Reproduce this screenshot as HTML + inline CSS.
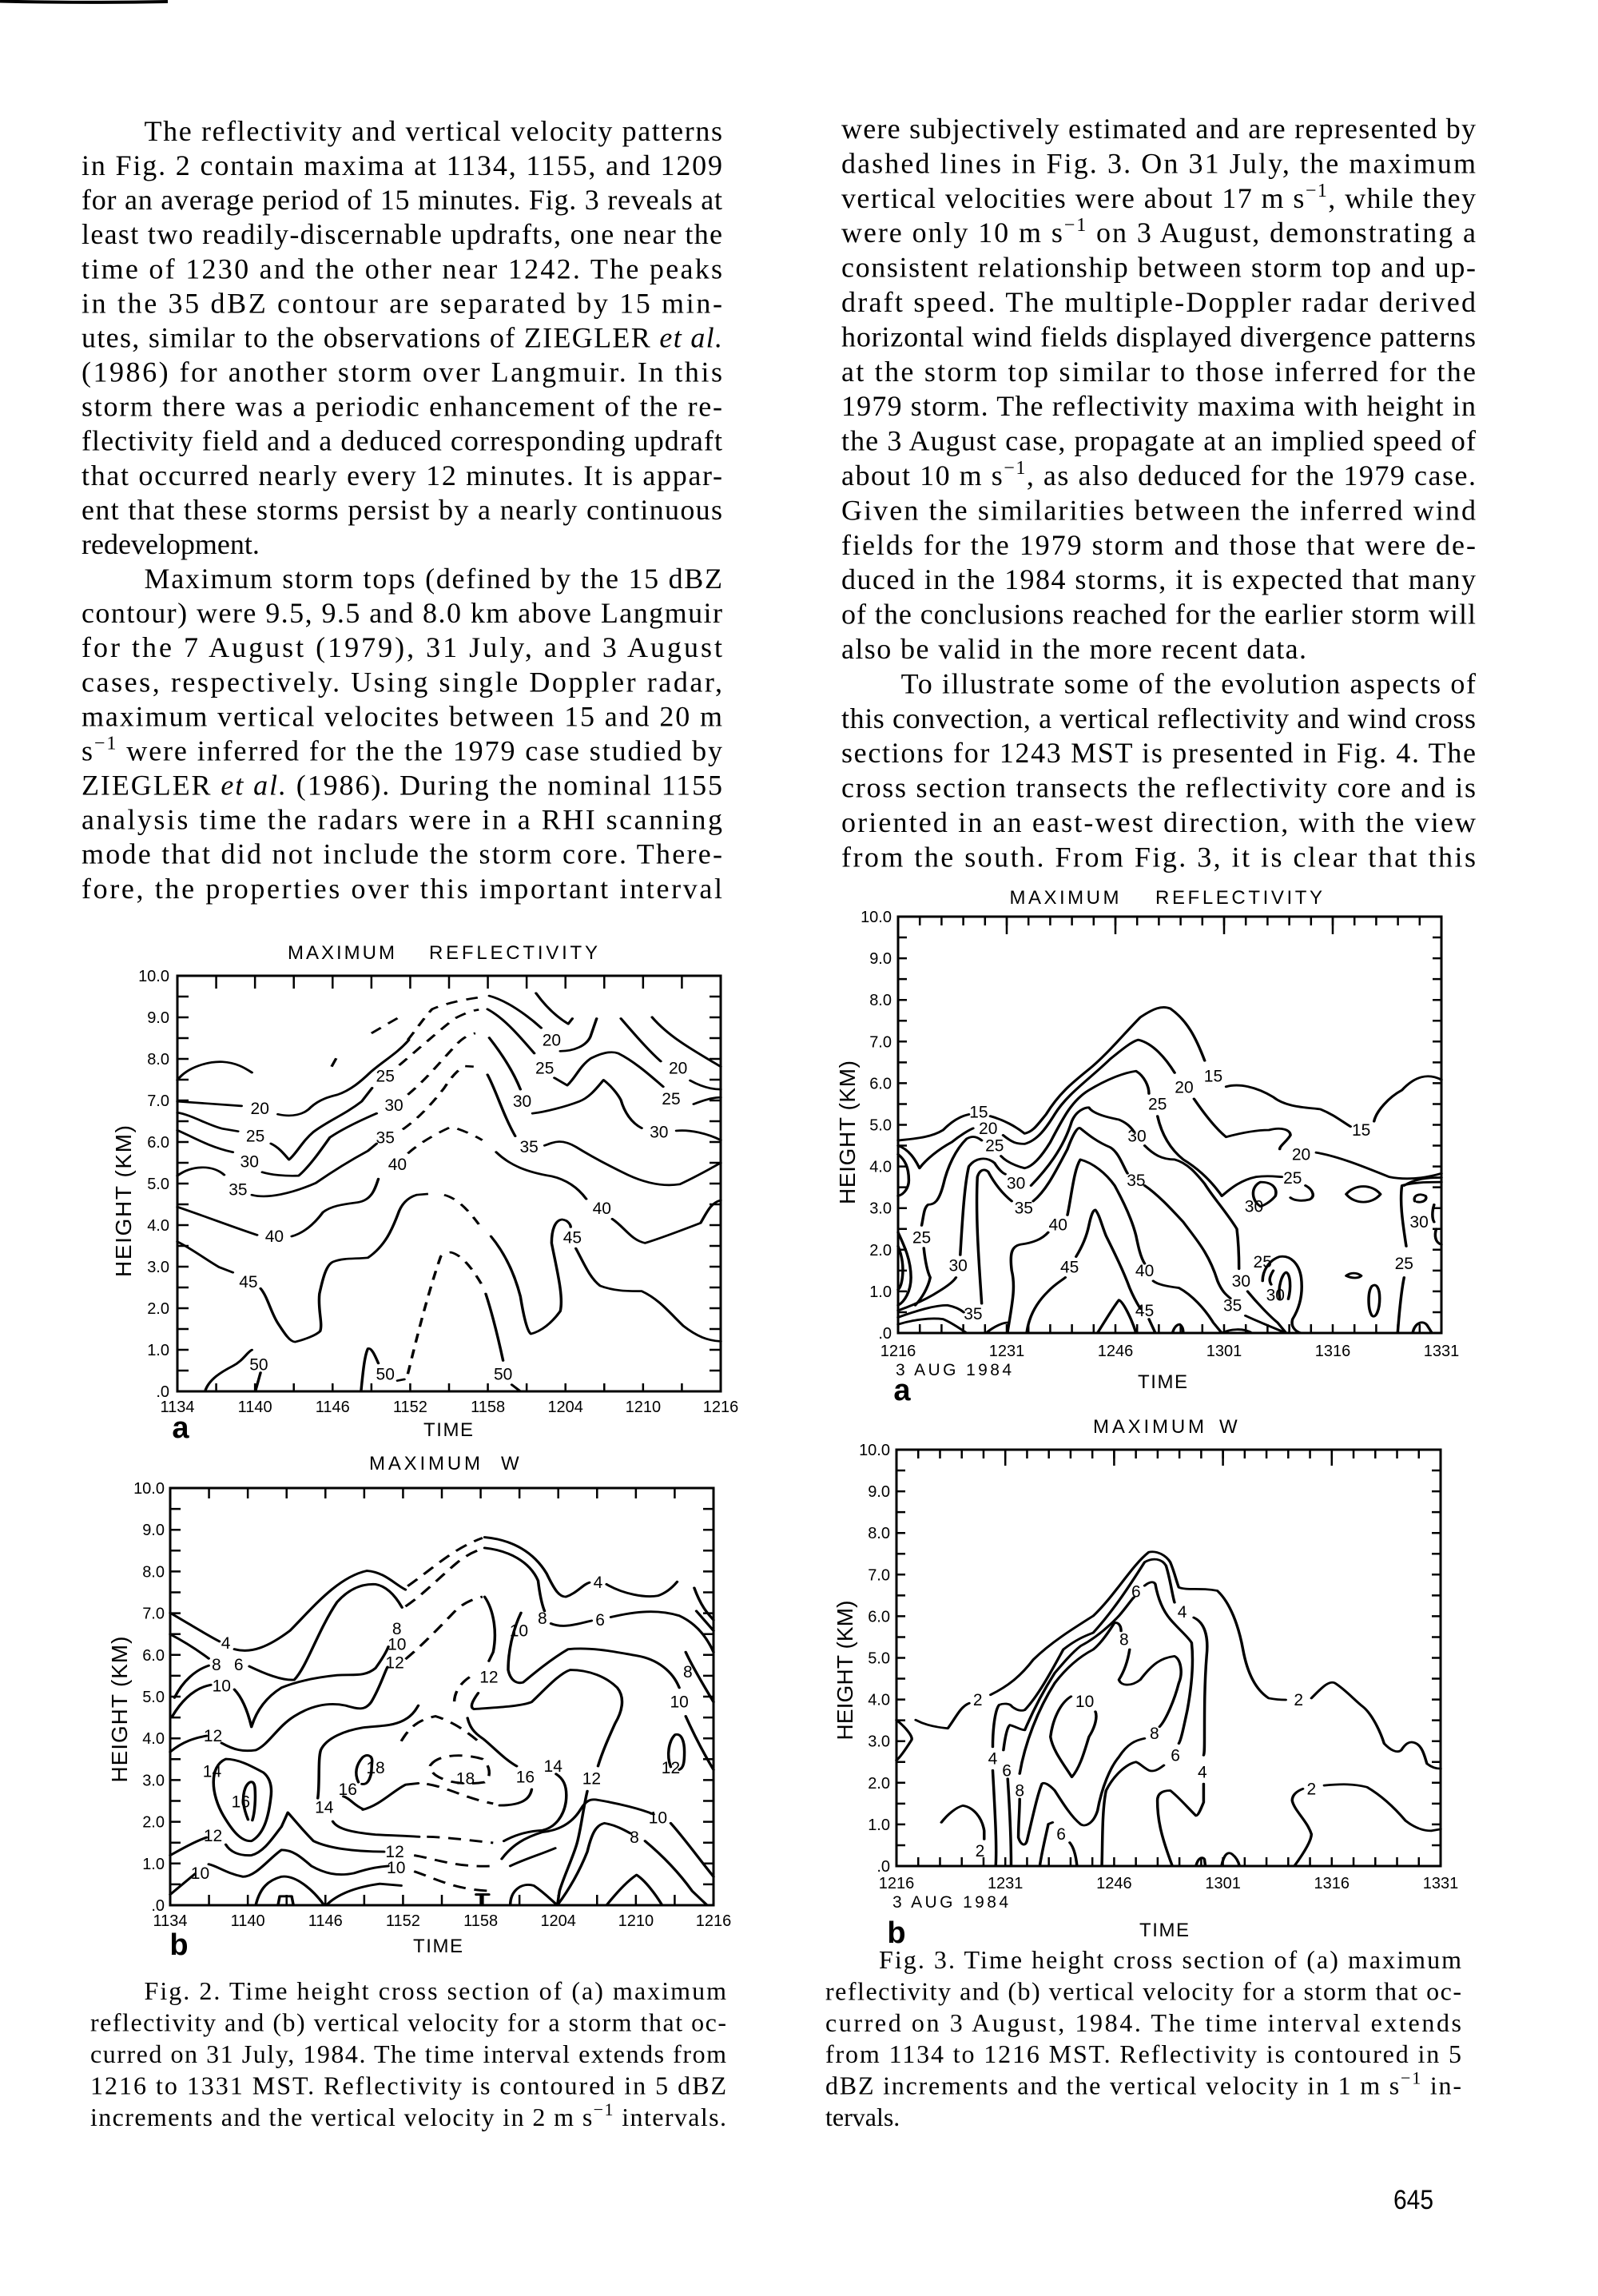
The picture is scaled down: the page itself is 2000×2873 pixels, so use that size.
<!DOCTYPE html>
<html><head><meta charset="utf-8"><style>html,body{margin:0;padding:0;background:#fff}svg{display:block}</style></head>
<body>
<svg width="2000" height="2873" viewBox="0 0 2000 2873" xmlns="http://www.w3.org/2000/svg">
<rect width="2000" height="2873" fill="#fff"/>
<path d="M0,1.5 Q100,4 210,2" stroke="#000" stroke-width="4" fill="none"/>

<!-- BODY TEXT -->
<g font-family="'Liberation Serif', serif" font-size="36" fill="#000">
<text x="180.5" y="176" textLength="723.5" lengthAdjust="spacing">The reflectivity and vertical velocity patterns</text>
<text x="102" y="219.1" textLength="802" lengthAdjust="spacing">in Fig. 2 contain maxima at 1134, 1155, and 1209</text>
<text x="102" y="262.2" textLength="802" lengthAdjust="spacing">for an average period of 15 minutes. Fig. 3 reveals at</text>
<text x="102" y="305.2" textLength="802" lengthAdjust="spacing">least two readily-discernable updrafts, one near the</text>
<text x="102" y="348.3" textLength="802" lengthAdjust="spacing">time of 1230 and the other near 1242. The peaks</text>
<text x="102" y="391.4" textLength="802" lengthAdjust="spacing">in the 35 dBZ contour are separated by 15 min-</text>
<text x="102" y="434.5" textLength="802" lengthAdjust="spacing">utes, similar to the observations of ZIEGLER <tspan font-style="italic">et al.</tspan></text>
<text x="102" y="477.6" textLength="802" lengthAdjust="spacing">(1986) for another storm over Langmuir. In this</text>
<text x="102" y="520.6" textLength="802" lengthAdjust="spacing">storm there was a periodic enhancement of the re-</text>
<text x="102" y="563.7" textLength="802" lengthAdjust="spacing">flectivity field and a deduced corresponding updraft</text>
<text x="102" y="606.8" textLength="802" lengthAdjust="spacing">that occurred nearly every 12 minutes. It is appar-</text>
<text x="102" y="649.9" textLength="802" lengthAdjust="spacing">ent that these storms persist by a nearly continuous</text>
<text x="102" y="693">redevelopment.</text>
<text x="180.5" y="736" textLength="723.5" lengthAdjust="spacing">Maximum storm tops (defined by the 15 dBZ</text>
<text x="102" y="779.1" textLength="802" lengthAdjust="spacing">contour) were 9.5, 9.5 and 8.0 km above Langmuir</text>
<text x="102" y="822.2" textLength="802" lengthAdjust="spacing">for the 7 August (1979), 31 July, and 3 August</text>
<text x="102" y="865.3" textLength="802" lengthAdjust="spacing">cases, respectively. Using single Doppler radar,</text>
<text x="102" y="908.4" textLength="802" lengthAdjust="spacing">maximum vertical velocites between 15 and 20 m</text>
<text x="102" y="951.4" textLength="802" lengthAdjust="spacing">s<tspan dy="-14" font-size="24">−1</tspan><tspan dy="14"> were inferred for the the 1979 case studied by</tspan></text>
<text x="102" y="994.5" textLength="802" lengthAdjust="spacing">ZIEGLER <tspan font-style="italic">et al.</tspan> (1986). During the nominal 1155</text>
<text x="102" y="1037.6" textLength="802" lengthAdjust="spacing">analysis time the radars were in a RHI scanning</text>
<text x="102" y="1080.7" textLength="802" lengthAdjust="spacing">mode that did not include the storm core. There-</text>
<text x="102" y="1123.8" textLength="802" lengthAdjust="spacing">fore, the properties over this important interval</text>

<text x="1053" y="173" textLength="794" lengthAdjust="spacing">were subjectively estimated and are represented by</text>
<text x="1053" y="216.4" textLength="794" lengthAdjust="spacing">dashed lines in Fig. 3. On 31 July, the maximum</text>
<text x="1053" y="259.8" textLength="794" lengthAdjust="spacing">vertical velocities were about 17 m s<tspan dy="-14" font-size="24">−1</tspan><tspan dy="14">, while they</tspan></text>
<text x="1053" y="303.2" textLength="794" lengthAdjust="spacing">were only 10 m s<tspan dy="-14" font-size="24">−1</tspan><tspan dy="14"> on 3 August, demonstrating a</tspan></text>
<text x="1053" y="346.6" textLength="794" lengthAdjust="spacing">consistent relationship between storm top and up-</text>
<text x="1053" y="390" textLength="794" lengthAdjust="spacing">draft speed. The multiple-Doppler radar derived</text>
<text x="1053" y="433.4" textLength="794" lengthAdjust="spacing">horizontal wind fields displayed divergence patterns</text>
<text x="1053" y="476.8" textLength="794" lengthAdjust="spacing">at the storm top similar to those inferred for the</text>
<text x="1053" y="520.2" textLength="794" lengthAdjust="spacing">1979 storm. The reflectivity maxima with height in</text>
<text x="1053" y="563.6" textLength="794" lengthAdjust="spacing">the 3 August case, propagate at an implied speed of</text>
<text x="1053" y="607" textLength="794" lengthAdjust="spacing">about 10 m s<tspan dy="-14" font-size="24">−1</tspan><tspan dy="14">, as also deduced for the 1979 case.</tspan></text>
<text x="1053" y="650.4" textLength="794" lengthAdjust="spacing">Given the similarities between the inferred wind</text>
<text x="1053" y="693.8" textLength="794" lengthAdjust="spacing">fields for the 1979 storm and those that were de-</text>
<text x="1053" y="737.2" textLength="794" lengthAdjust="spacing">duced in the 1984 storms, it is expected that many</text>
<text x="1053" y="780.6" textLength="794" lengthAdjust="spacing">of the conclusions reached for the earlier storm will</text>
<text x="1053" y="824" textLength="582" lengthAdjust="spacing">also be valid in the more recent data.</text>
<text x="1127.6" y="867.4" textLength="719.4" lengthAdjust="spacing">To illustrate some of the evolution aspects of</text>
<text x="1053" y="910.8" textLength="794" lengthAdjust="spacing">this convection, a vertical reflectivity and wind cross</text>
<text x="1053" y="954.2" textLength="794" lengthAdjust="spacing">sections for 1243 MST is presented in Fig. 4. The</text>
<text x="1053" y="997.6" textLength="794" lengthAdjust="spacing">cross section transects the reflectivity core and is</text>
<text x="1053" y="1041" textLength="794" lengthAdjust="spacing">oriented in an east-west direction, with the view</text>
<text x="1053" y="1084.4" textLength="794" lengthAdjust="spacing">from the south. From Fig. 3, it is clear that this</text>
</g>

<!-- CAPTIONS -->
<g font-family="'Liberation Serif', serif" font-size="32" fill="#000">
<text x="180.5" y="2502" textLength="728.5" lengthAdjust="spacing">Fig. 2.  Time height cross section of (a) maximum</text>
<text x="113" y="2541.5" textLength="796" lengthAdjust="spacing">reflectivity and (b) vertical velocity for a storm that oc-</text>
<text x="113" y="2581" textLength="796" lengthAdjust="spacing">curred on 31 July, 1984. The time interval extends from</text>
<text x="113" y="2620.5" textLength="796" lengthAdjust="spacing">1216 to 1331 MST. Reflectivity is contoured in 5 dBZ</text>
<text x="113" y="2660" textLength="796" lengthAdjust="spacing">increments and the vertical velocity in 2 m s<tspan dy="-13" font-size="22">−1</tspan><tspan dy="13"> intervals.</tspan></text>

<text x="1100" y="2463" textLength="729" lengthAdjust="spacing">Fig. 3.  Time height cross section of (a) maximum</text>
<text x="1033" y="2502.4" textLength="796" lengthAdjust="spacing">reflectivity and (b) vertical velocity for a storm that oc-</text>
<text x="1033" y="2541.8" textLength="796" lengthAdjust="spacing">curred on 3 August, 1984.  The time interval extends</text>
<text x="1033" y="2581.2" textLength="796" lengthAdjust="spacing">from 1134 to 1216 MST. Reflectivity is contoured in 5</text>
<text x="1033" y="2620.6" textLength="796" lengthAdjust="spacing">dBZ increments and the vertical velocity in 1 m s<tspan dy="-13" font-size="22">−1</tspan><tspan dy="13"> in-</tspan></text>
<text x="1033" y="2660">tervals.</text>
</g>
<text x="1769" y="2764" font-family="'Liberation Sans', sans-serif" font-size="34" text-anchor="middle" textLength="50" lengthAdjust="spacingAndGlyphs">645</text>

<!-- ===================== FIG 2a ===================== -->
<g>
<g stroke="#000" fill="none">
<rect x="222" y="1221" width="680" height="520" stroke-width="3"/>
<line x1="220.75" y1="1229" x2="904" y2="1229" stroke-width="16" stroke-dasharray="2.5 46.071"/>
<line x1="220.75" y1="1736" x2="904" y2="1736" stroke-width="10" stroke-dasharray="2.5 46.071"/>
<line x1="229" y1="1219.75" x2="229" y2="1743" stroke-width="14" stroke-dasharray="2.5 23.5"/>
<line x1="895" y1="1219.75" x2="895" y2="1743" stroke-width="14" stroke-dasharray="2.5 23.5"/>
</g>
<g font-family="'Liberation Sans', sans-serif" fill="#000">
<g font-size="20" text-anchor="end">
<text x="212" y="1228">10.0</text><text x="212" y="1280">9.0</text><text x="212" y="1332">8.0</text><text x="212" y="1384">7.0</text><text x="212" y="1436">6.0</text><text x="212" y="1488">5.0</text><text x="212" y="1540">4.0</text><text x="212" y="1592">3.0</text><text x="212" y="1644">2.0</text><text x="212" y="1696">1.0</text><text x="212" y="1748">.0</text>
</g>
<g font-size="20" text-anchor="middle">
<text x="222" y="1767">1134</text><text x="319.1" y="1767">1140</text><text x="416.3" y="1767">1146</text><text x="513.4" y="1767">1152</text><text x="610.6" y="1767">1158</text><text x="707.7" y="1767">1204</text><text x="804.9" y="1767">1210</text><text x="902" y="1767">1216</text>
</g>
<text x="360" y="1200" font-size="24" textLength="134" lengthAdjust="spacing">MAXIMUM</text><text x="537" y="1200" font-size="24" textLength="211" lengthAdjust="spacing">REFLECTIVITY</text>
<text x="561" y="1797" font-size="24" text-anchor="middle" textLength="62" lengthAdjust="spacing">TIME</text>
<text x="226" y="1799" font-size="38" font-weight="bold" text-anchor="middle">a</text>
<text transform="translate(164,1503) rotate(-90)" font-size="28" text-anchor="middle" textLength="190" lengthAdjust="spacing">HEIGHT (KM)</text>
</g>
<g transform="matrix(0.43367 0 0 0.33441 222 1221)">
<g fill="none" stroke="#000" stroke-width="8" stroke-linecap="round" stroke-linejoin="round">
<path d="M0,390 C30,340 90,320 130,322 C170,325 195,345 215,362"/>
<path d="M0,470 L185,487"/>
<path d="M290,518 C330,530 365,520 385,492 C410,462 440,452 462,445 C500,428 530,395 558,360 C595,318 635,290 668,240"/>
<path d="M900,75 C950,92 1010,148 1050,195"/>
<path d="M1105,282 C1145,282 1180,262 1192,228 L1210,160"/>
<path d="M1035,65 C1060,110 1090,150 1128,180 L1140,160"/>
<path d="M0,512 C40,520 90,560 130,572 L175,582"/>
<path d="M270,628 C292,642 305,662 322,688 C342,668 360,620 392,585 C432,545 482,520 532,470 L562,420"/>
<path d="M895,125 C945,160 990,230 1030,290"/>
<path d="M1088,382 L1125,410 C1150,380 1160,340 1192,310 C1222,290 1250,280 1272,290 C1322,322 1372,382 1402,415"/>
<path d="M1280,160 C1320,220 1360,280 1395,320"/>
<path d="M1370,155 C1420,230 1490,280 1568,340"/>
<path d="M1480,392 C1505,410 1535,425 1568,425"/>
<path d="M1490,480 C1520,465 1545,455 1568,455"/>
<path d="M0,578 C40,600 90,640 160,660"/>
<path d="M245,735 C270,745 310,750 350,748 C380,715 410,660 440,605 C480,570 530,540 575,515"/>
<path d="M900,232 C935,290 970,360 990,425"/>
<path d="M1025,515 C1060,510 1120,490 1160,470 C1190,455 1210,420 1230,390 C1250,410 1270,440 1280,465 C1290,510 1310,550 1340,570"/>
<path d="M1440,580 C1480,575 1530,590 1568,615"/>
<path d="M0,748 C40,710 100,705 135,745"/>
<path d="M215,820 C260,835 330,815 400,775 C450,730 500,690 550,655 L575,628"/>
<path d="M895,370 C920,430 940,520 975,600"/>
<path d="M1060,635 C1090,620 1110,610 1150,640 C1200,680 1260,720 1300,745 C1350,775 1400,790 1450,780 C1500,750 1540,720 1568,700"/>
<path d="M0,865 C80,900 160,940 230,970"/>
<path d="M330,975 C370,960 400,920 420,885 C445,860 480,855 520,848 C560,840 570,800 580,760"/>
<path d="M920,660 C960,710 1010,735 1080,750 C1130,765 1160,800 1180,835"/>
<path d="M1255,910 C1290,940 1310,990 1350,1000 C1400,980 1460,950 1510,925 C1530,880 1540,850 1568,840"/>
<path d="M0,995 C40,1020 80,1060 120,1090 L160,1110"/>
<path d="M240,1170 C260,1200 270,1260 290,1300 C310,1340 325,1370 340,1370 C370,1360 400,1345 412,1330 C420,1300 405,1250 410,1190 C420,1130 430,1080 450,1070 C480,1055 510,1060 550,1055 C600,1010 620,950 640,880 C650,850 665,830 690,820"/>
<path d="M905,975 C940,1030 970,1100 990,1200 C1000,1280 1010,1330 1020,1340 C1050,1330 1080,1300 1105,1255 C1115,1200 1095,1100 1080,1000 C1080,950 1090,915 1110,912 C1130,915 1135,935 1135,940"/>
<path d="M1150,1020 C1175,1080 1190,1130 1220,1160 C1260,1180 1300,1180 1340,1180 C1390,1210 1420,1260 1460,1310 C1500,1350 1530,1365 1568,1368"/>
<path d="M80,1555 C90,1510 130,1480 160,1460 C190,1440 200,1410 215,1400"/>
<path d="M240,1485 L225,1555"/>
<path d="M530,1555 C535,1490 540,1420 550,1395 C560,1390 570,1420 580,1450"/>
<path d="M635,1515 L655,1510"/>
<path d="M890,1190 C910,1270 930,1380 940,1440"/>
<path d="M965,1530 L990,1555"/>
</g>
<g fill="none" stroke="#000" stroke-width="8" stroke-dasharray="34 26">
<path d="M665,240 C690,200 710,160 735,125 C770,105 820,90 875,80"/>
<path d="M640,335 C690,280 760,200 800,160 C830,140 850,130 870,127"/>
<path d="M560,215 L640,155"/>
<path d="M445,340 L460,305"/>
<path d="M665,445 C720,385 760,320 800,265 C820,235 840,220 860,215"/>
<path d="M650,575 C700,530 740,470 770,420 C790,380 810,350 830,338 L855,340"/>
<path d="M665,665 C700,625 740,595 790,565 C830,580 860,600 880,615"/>
<path d="M690,820 L735,815 M770,820 C800,830 830,860 870,930"/>
<path d="M665,1490 C690,1360 720,1200 760,1050 C770,1040 780,1035 790,1035 C820,1045 850,1090 885,1170"/>
</g>
<g font-family="'Liberation Sans', sans-serif" font-size="21" text-anchor="middle" fill="#000">
<text transform="matrix(2.3059 0 0 2.9903 238 497)" y="7">20</text>
<text transform="matrix(2.3059 0 0 2.9903 225 600)" y="7">25</text>
<text transform="matrix(2.3059 0 0 2.9903 208 695)" y="7">30</text>
<text transform="matrix(2.3059 0 0 2.9903 175 800)" y="7">35</text>
<text transform="matrix(2.3059 0 0 2.9903 280 975)" y="7">40</text>
<text transform="matrix(2.3059 0 0 2.9903 205 1145)" y="7">45</text>
<text transform="matrix(2.3059 0 0 2.9903 235 1455)" y="7">50</text>
<text transform="matrix(2.3059 0 0 2.9903 600 375)" y="7">25</text>
<text transform="matrix(2.3059 0 0 2.9903 625 485)" y="7">30</text>
<text transform="matrix(2.3059 0 0 2.9903 600 605)" y="7">35</text>
<text transform="matrix(2.3059 0 0 2.9903 635 705)" y="7">40</text>
<text transform="matrix(2.3059 0 0 2.9903 600 1490)" y="7">50</text>
<text transform="matrix(2.3059 0 0 2.9903 1080 240)" y="7">20</text>
<text transform="matrix(2.3059 0 0 2.9903 1060 345)" y="7">25</text>
<text transform="matrix(2.3059 0 0 2.9903 995 470)" y="7">30</text>
<text transform="matrix(2.3059 0 0 2.9903 1015 640)" y="7">35</text>
<text transform="matrix(2.3059 0 0 2.9903 1225 870)" y="7">40</text>
<text transform="matrix(2.3059 0 0 2.9903 1140 980)" y="7">45</text>
<text transform="matrix(2.3059 0 0 2.9903 940 1490)" y="7">50</text>
<text transform="matrix(2.3059 0 0 2.9903 1445 345)" y="7">20</text>
<text transform="matrix(2.3059 0 0 2.9903 1425 460)" y="7">25</text>
<text transform="matrix(2.3059 0 0 2.9903 1390 585)" y="7">30</text>
</g>
</g>
</g>

<!-- ===================== FIG 2b ===================== -->
<g transform="translate(0,-6)">
<g stroke="#000" fill="none">
<rect x="213" y="1868" width="680" height="522" stroke-width="3"/>
<line x1="211.75" y1="1874.5" x2="895" y2="1874.5" stroke-width="13" stroke-dasharray="2.5 46.071"/>
<line x1="211.75" y1="2383.5" x2="895" y2="2383.5" stroke-width="13" stroke-dasharray="2.5 46.071"/>
<line x1="219.5" y1="1866.75" x2="219.5" y2="2392" stroke-width="13" stroke-dasharray="2.5 23.6"/>
<line x1="886.5" y1="1866.75" x2="886.5" y2="2392" stroke-width="13" stroke-dasharray="2.5 23.6"/>
</g>
<g font-family="'Liberation Sans', sans-serif" fill="#000">
<g font-size="20" text-anchor="end">
<text x="206" y="1875">10.0</text><text x="206" y="1927.2">9.0</text><text x="206" y="1979.4">8.0</text><text x="206" y="2031.6">7.0</text><text x="206" y="2083.8">6.0</text><text x="206" y="2136">5.0</text><text x="206" y="2188.2">4.0</text><text x="206" y="2240.4">3.0</text><text x="206" y="2292.6">2.0</text><text x="206" y="2344.8">1.0</text><text x="206" y="2397">.0</text>
</g>
<g font-size="20" text-anchor="middle">
<text x="213" y="2416">1134</text><text x="310.1" y="2416">1140</text><text x="407.3" y="2416">1146</text><text x="504.4" y="2416">1152</text><text x="601.6" y="2416">1158</text><text x="698.7" y="2416">1204</text><text x="795.9" y="2416">1210</text><text x="893" y="2416">1216</text>
</g>
<text x="462" y="1845" font-size="24" textLength="139" lengthAdjust="spacing">MAXIMUM</text><text x="627" y="1845" font-size="24">W</text>
<text x="548" y="2449" font-size="24" text-anchor="middle" textLength="62" lengthAdjust="spacing">TIME</text>
<text x="224" y="2452" font-size="38" font-weight="bold" text-anchor="middle">b</text>
<text transform="translate(159,2145) rotate(-90)" font-size="28" text-anchor="middle" textLength="183" lengthAdjust="spacing">HEIGHT (KM)</text>
</g>
<g transform="matrix(0.53543 0 0 0.44615 100.56 1796.62)">
<g fill="none" stroke="#000" stroke-width="6.5" stroke-linecap="round" stroke-linejoin="round">
<path d="M210,510 C260,545 300,575 325,590"/>
<path d="M360,612 C400,625 440,605 490,560 C540,500 600,410 670,392 C710,395 735,430 760,445"/>
<path d="M945,298 C1010,305 1060,340 1090,400 C1110,450 1120,465 1135,465 C1160,455 1175,430 1190,425"/>
<path d="M1230,430 C1270,458 1320,468 1350,462 C1375,452 1390,430 1395,423"/>
<path d="M210,570 C250,595 280,620 300,638"/>
<path d="M395,660 C430,680 470,700 500,698 C530,660 555,560 600,480 C630,440 660,428 690,430 C720,436 740,470 752,495"/>
<path d="M945,328 C1000,335 1050,365 1070,420 C1075,470 1080,490 1085,505"/>
<path d="M1100,540 C1130,555 1165,540 1195,532"/>
<path d="M1240,522 C1300,505 1350,500 1400,518 C1440,540 1465,580 1480,620"/>
<path d="M220,748 C240,700 270,670 300,658"/>
<path d="M215,800 C240,750 270,720 305,712"/>
<path d="M360,725 C380,750 392,790 400,830 C410,790 430,750 470,720 C510,700 560,690 600,685 C640,682 665,690 690,665 C705,640 715,620 720,605"/>
<path d="M210,900 C240,870 270,860 295,855"/>
<path d="M330,875 C360,895 380,900 410,895 C440,880 460,830 500,800 C540,770 580,760 620,770 C650,780 665,785 680,760 C700,720 710,680 718,662"/>
<path d="M945,465 C965,500 975,560 965,620 L955,645"/>
<path d="M930,735 C915,760 910,775 920,780 C980,775 1030,772 1055,760 C1090,720 1120,680 1145,670 C1190,670 1230,690 1255,720 C1275,750 1265,790 1250,820 C1235,860 1220,900 1210,940"/>
<path d="M1185,1010 C1175,1060 1170,1120 1160,1160 C1150,1200 1130,1250 1120,1290 L1115,1330"/>
<path d="M1030,510 C1010,560 1000,620 1000,670 C1005,700 1020,710 1035,705 C1060,680 1100,640 1140,612 C1200,605 1260,622 1300,630 C1350,640 1385,675 1400,720"/>
<path d="M1415,800 C1430,840 1450,890 1480,950"/>
<path d="M1415,620 C1430,660 1460,720 1480,760"/>
<path d="M1435,440 C1450,490 1465,510 1480,530"/>
<path d="M1440,505 L1480,560"/>
<path d="M650,985 C640,960 645,935 660,915 C670,905 682,910 682,925 L680,960 C675,985 668,992 658,990"/>
<path d="M660,1060 C640,1050 630,1030 615,1025"/>
<path d="M660,1062 C700,1050 730,1010 760,992 L790,988"/>
<path d="M980,1050 C1020,1050 1050,1040 1055,1005"/>
<path d="M1020,940 C990,920 960,880 940,862 C920,846 910,830 905,805"/>
<path d="M555,1030 C560,990 555,920 562,895 C575,860 620,840 660,832 C700,826 740,830 770,800 C780,790 785,780 790,770"/>
<path d="M590,1095 C600,1115 630,1125 690,1132 C740,1135 770,1136 792,1138"/>
<path d="M990,1150 C1020,1130 1050,1122 1080,1120 C1110,1112 1130,1080 1135,1040 C1140,990 1125,972 1112,962"/>
<path d="M340,920 C300,940 305,1020 335,1080 C355,1120 375,1152 400,1150 C430,1130 440,1080 445,1030 C450,990 440,970 428,958 C400,940 370,920 340,920 Z"/>
<path d="M392,1090 C382,1060 376,1030 386,1000 C394,980 406,978 408,1000 C410,1030 408,1070 402,1092"/>
<path d="M210,1190 C240,1170 270,1150 295,1140"/>
<path d="M340,1160 C350,1180 370,1192 400,1190 C430,1180 450,1140 470,1110 L485,1070 C500,1090 520,1120 545,1150 C580,1170 640,1180 710,1180"/>
<path d="M985,1200 C1010,1160 1040,1140 1080,1125 C1120,1120 1150,1100 1170,1060 C1180,1040 1190,1030 1210,1035 C1260,1045 1310,1060 1340,1075"/>
<path d="M1380,1100 C1410,1140 1440,1190 1480,1250"/>
<path d="M210,1300 C235,1275 255,1255 268,1242"/>
<path d="M300,1215 C320,1220 340,1240 380,1250 C410,1250 440,1200 470,1175 C500,1175 520,1200 540,1220 C570,1240 600,1250 640,1240 C680,1225 700,1222 720,1220"/>
<path d="M410,1330 C420,1280 440,1260 470,1250 C500,1245 540,1280 570,1330"/>
<path d="M575,1330 C600,1300 640,1280 700,1270 L750,1275"/>
<path d="M462,1330 L466,1305 L494,1305 L498,1330"/>
<path d="M1005,1330 C1005,1290 1030,1265 1060,1275 C1085,1295 1100,1315 1115,1330"/>
<path d="M1115,1330 C1140,1290 1165,1240 1185,1180 C1195,1130 1205,1105 1225,1100 C1250,1105 1270,1118 1285,1128"/>
<path d="M1320,1150 C1360,1190 1400,1240 1430,1290 L1465,1330"/>
<path d="M1230,1330 C1250,1300 1275,1265 1300,1245 C1320,1260 1345,1300 1360,1330"/>
<path d="M1380,942 C1370,910 1375,870 1390,852 C1405,846 1412,870 1412,900 C1412,930 1410,945 1400,950"/>
<path d="M1005,1220 C1040,1200 1070,1190 1110,1170"/>
<path d="M925,1300 L955,1300 M940,1300 L940,1330"/>
</g>
<g fill="none" stroke="#000" stroke-width="6.5" stroke-dasharray="30 20">
<path d="M765,435 C820,390 870,330 940,300"/>
<path d="M760,492 C800,460 840,410 880,370 C900,350 920,338 940,330"/>
<path d="M760,640 C800,600 840,550 880,500 C900,480 920,470 940,465"/>
<path d="M910,690 C885,710 870,740 875,775"/>
<path d="M750,870 C770,830 790,810 830,800 C870,815 900,840 930,870"/>
<path d="M820,935 C840,905 900,905 940,920 C960,940 960,975 945,985 C910,992 860,990 830,965 C815,950 815,940 820,935"/>
<path d="M810,990 C860,1000 900,1030 965,1045"/>
<path d="M810,1138 C870,1140 920,1150 965,1155"/>
<path d="M780,1190 C830,1200 880,1225 965,1220"/>
<path d="M780,1235 C830,1255 880,1290 970,1290"/>
</g>
<g font-family="'Liberation Sans', sans-serif" font-size="21" text-anchor="middle" fill="#000">
<text transform="matrix(1.8677 0 0 2.2414 340 595)" y="7">4</text>
<text transform="matrix(1.8677 0 0 2.2414 318 655)" y="7">8</text>
<text transform="matrix(1.8677 0 0 2.2414 370 655)" y="7">6</text>
<text transform="matrix(1.8677 0 0 2.2414 330 715)" y="7">10</text>
<text transform="matrix(1.8677 0 0 2.2414 310 855)" y="7">12</text>
<text transform="matrix(1.8677 0 0 2.2414 308 955)" y="7">14</text>
<text transform="matrix(1.8677 0 0 2.2414 375 1040)" y="7">16</text>
<text transform="matrix(1.8677 0 0 2.2414 310 1135)" y="7">12</text>
<text transform="matrix(1.8677 0 0 2.2414 280 1240)" y="7">10</text>
<text transform="matrix(1.8677 0 0 2.2414 740 555)" y="7">8</text>
<text transform="matrix(1.8677 0 0 2.2414 740 598)" y="7">10</text>
<text transform="matrix(1.8677 0 0 2.2414 735 650)" y="7">12</text>
<text transform="matrix(1.8677 0 0 2.2414 690 945)" y="7">18</text>
<text transform="matrix(1.8677 0 0 2.2414 625 1005)" y="7">16</text>
<text transform="matrix(1.8677 0 0 2.2414 570 1055)" y="7">14</text>
<text transform="matrix(1.8677 0 0 2.2414 900 975)" y="7">18</text>
<text transform="matrix(1.8677 0 0 2.2414 1040 970)" y="7">16</text>
<text transform="matrix(1.8677 0 0 2.2414 1105 940)" y="7">14</text>
<text transform="matrix(1.8677 0 0 2.2414 1195 975)" y="7">12</text>
<text transform="matrix(1.8677 0 0 2.2414 955 690)" y="7">12</text>
<text transform="matrix(1.8677 0 0 2.2414 1025 560)" y="7">10</text>
<text transform="matrix(1.8677 0 0 2.2414 1080 525)" y="7">8</text>
<text transform="matrix(1.8677 0 0 2.2414 1215 530)" y="7">6</text>
<text transform="matrix(1.8677 0 0 2.2414 1210 425)" y="7">4</text>
<text transform="matrix(1.8677 0 0 2.2414 1420 675)" y="7">8</text>
<text transform="matrix(1.8677 0 0 2.2414 1400 760)" y="7">10</text>
<text transform="matrix(1.8677 0 0 2.2414 1380 945)" y="7">12</text>
<text transform="matrix(1.8677 0 0 2.2414 1350 1085)" y="7">10</text>
<text transform="matrix(1.8677 0 0 2.2414 1295 1140)" y="7">8</text>
<text transform="matrix(1.8677 0 0 2.2414 735 1180)" y="7">12</text>
<text transform="matrix(1.8677 0 0 2.2414 738 1225)" y="7">10</text>
</g>
</g>
</g>

<!-- ===================== FIG 3a ===================== -->
<g transform="translate(0,-4)">
<g stroke="#000" fill="none">
<rect x="1124" y="1151" width="680" height="521" stroke-width="3"/>
<line x1="1122.75" y1="1156.5" x2="1806" y2="1156.5" stroke-width="11" stroke-dasharray="2.5 24.7"/>
<line x1="1122.75" y1="1162" x2="1806" y2="1162" stroke-width="22" stroke-dasharray="2.5 133.5"/>
<line x1="1122.75" y1="1666.5" x2="1806" y2="1666.5" stroke-width="11" stroke-dasharray="2.5 24.7"/>
<line x1="1129.5" y1="1149.75" x2="1129.5" y2="1674" stroke-width="11" stroke-dasharray="2.5 23.55"/>
<line x1="1798.5" y1="1149.75" x2="1798.5" y2="1674" stroke-width="11" stroke-dasharray="2.5 23.55"/>
</g>
<g font-family="'Liberation Sans', sans-serif" fill="#000">
<g font-size="20" text-anchor="end">
<text x="1116" y="1158">10.0</text><text x="1116" y="1210.1">9.0</text><text x="1116" y="1262.2">8.0</text><text x="1116" y="1314.3">7.0</text><text x="1116" y="1366.4">6.0</text><text x="1116" y="1418.5">5.0</text><text x="1116" y="1470.6">4.0</text><text x="1116" y="1522.7">3.0</text><text x="1116" y="1574.8">2.0</text><text x="1116" y="1626.9">1.0</text><text x="1116" y="1679">.0</text>
</g>
<g font-size="20" text-anchor="middle">
<text x="1124" y="1701">1216</text><text x="1260" y="1701">1231</text><text x="1396" y="1701">1246</text><text x="1532" y="1701">1301</text><text x="1668" y="1701">1316</text><text x="1804" y="1701">1331</text>
</g>
<text x="1121" y="1725" font-size="21" textLength="145" lengthAdjust="spacing">3 AUG 1984</text>
<text x="1263.5" y="1135" font-size="24" textLength="137" lengthAdjust="spacing">MAXIMUM</text><text x="1446" y="1135" font-size="24" textLength="209" lengthAdjust="spacing">REFLECTIVITY</text>
<text x="1455" y="1741" font-size="24" text-anchor="middle" textLength="62" lengthAdjust="spacing">TIME</text>
<text x="1129" y="1756" font-size="38" font-weight="bold" text-anchor="middle">a</text>
<text transform="translate(1070,1421) rotate(-90)" font-size="28" text-anchor="middle" textLength="180" lengthAdjust="spacing">HEIGHT (KM)</text>
</g>
<g transform="matrix(0.53670 0 0 0.43417 1019.34 1094.56)">
<g fill="none" stroke="#000" stroke-width="6.5" stroke-linecap="round" stroke-linejoin="round">
<path d="M195,775 C230,770 270,768 300,745 C320,720 340,705 360,700"/>
<path d="M410,705 C440,715 470,735 490,755 C510,750 520,730 540,700 C570,640 600,610 640,570 C680,530 720,470 760,420 C790,395 810,385 830,395 C870,430 890,480 910,545"/>
<path d="M960,620 C990,610 1030,620 1070,650 C1100,680 1150,680 1180,685 C1210,700 1230,720 1250,735"/>
<path d="M1305,720 C1310,690 1340,650 1370,630 C1400,590 1430,580 1462,600"/>
<path d="M195,790 C220,800 235,830 245,855 C260,830 290,800 320,780 C340,760 360,745 370,740"/>
<path d="M440,760 C460,780 470,785 490,785 C520,775 540,740 560,700 C590,640 640,600 690,540 C720,510 740,490 755,485 C790,495 820,540 840,580"/>
<path d="M885,655 C910,700 935,740 960,765 C990,755 1030,745 1060,745 C1090,735 1110,745 1110,760 C1100,780 1085,790 1085,800"/>
<path d="M1170,810 C1220,820 1280,850 1340,880 C1380,890 1420,885 1462,870"/>
<path d="M250,1020 C255,990 255,970 265,960 C280,960 290,950 300,905 C310,850 330,800 355,770 C370,760 380,765 390,775"/>
<path d="M435,820 C450,840 475,850 490,855 C510,850 530,820 550,780 C580,710 600,660 640,630 C680,600 720,580 750,575 C770,590 780,620 780,640"/>
<path d="M800,705 C810,760 830,800 860,830 C900,860 930,900 950,935 C965,920 990,890 1030,880 C1060,875 1080,880 1090,880"/>
<path d="M1145,905 C1160,915 1170,935 1155,945 C1140,950 1120,950 1110,940"/>
<path d="M340,1105 C345,1000 350,900 360,850 C375,825 400,820 420,840 C430,860 440,870 445,872"/>
<path d="M505,905 C540,860 580,800 600,720 C610,690 630,680 640,680 C650,700 690,710 710,715 C730,725 740,740 745,750"/>
<path d="M770,790 C790,815 810,830 840,830 C870,840 890,870 910,900 C930,940 960,980 985,1030 C990,1080 990,1120 990,1145"/>
<path d="M1040,965 C1020,950 1015,910 1040,895 C1070,895 1080,915 1075,935 C1065,950 1050,962 1040,965"/>
<path d="M390,1245 C385,1150 375,1000 380,880 C385,860 395,855 405,865 C420,900 440,930 460,950"/>
<path d="M510,950 C540,920 560,870 590,800 C605,750 615,735 620,740 C640,760 660,780 690,795 C710,810 720,850 730,870"/>
<path d="M770,905 C800,930 830,970 860,1010 C890,1060 920,1100 940,1180 C950,1210 960,1220 970,1230"/>
<path d="M450,1330 C460,1250 470,1200 460,1150 C455,1100 460,1080 480,1075 C510,1070 530,1060 545,1040"/>
<path d="M590,990 C600,930 605,860 620,830 C650,840 680,870 700,905 C720,950 740,1000 750,1050 C755,1080 760,1110 770,1130"/>
<path d="M790,1180 C800,1190 820,1195 850,1200 C880,1220 910,1260 930,1300 L950,1330"/>
<path d="M495,1330 C500,1280 520,1240 545,1210 C560,1190 575,1180 585,1170"/>
<path d="M610,1110 C625,1080 635,1050 640,1020 C645,990 650,975 655,975 C665,990 670,1020 680,1050 C700,1100 720,1150 735,1200 C745,1230 755,1250 760,1260"/>
<path d="M780,1290 L795,1330"/>
<path d="M660,1330 C680,1290 700,1250 710,1235 C720,1240 740,1290 750,1330"/>
<path d="M835,1330 C838,1315 845,1305 852,1305 C858,1310 860,1320 860,1330"/>
<path d="M195,815 C210,830 220,850 220,890 C220,910 210,930 195,935"/>
<path d="M195,1040 C210,1080 225,1120 225,1170 C225,1210 210,1240 195,1250"/>
<path d="M195,1080 C205,1110 208,1140 205,1170 C203,1190 200,1200 195,1205"/>
<path d="M195,1265 C230,1250 265,1230 290,1210 C310,1195 325,1180 330,1170"/>
<path d="M195,1285 C240,1265 280,1250 310,1250 C330,1255 340,1262 348,1270"/>
<path d="M195,1305 C230,1292 270,1285 300,1290 C320,1300 340,1318 355,1330"/>
<path d="M400,1330 C420,1310 440,1300 450,1300"/>
<path d="M255,1085 C258,1120 262,1150 270,1170 C265,1200 250,1230 235,1250"/>
<path d="M950,1330 C970,1318 1000,1315 1020,1330"/>
<path d="M1005,1280 C1040,1300 1080,1320 1100,1330"/>
<path d="M1010,1210 C1030,1240 1060,1280 1080,1300 L1100,1330"/>
<path d="M1045,1180 C1045,1150 1060,1120 1085,1110 C1110,1105 1130,1130 1135,1170 C1140,1220 1130,1260 1115,1290 C1110,1310 1120,1325 1135,1330"/>
<path d="M1085,1230 C1080,1200 1090,1160 1100,1155 C1110,1160 1112,1200 1105,1232"/>
<path d="M1240,1165 C1250,1155 1265,1155 1275,1165 C1270,1172 1255,1174 1240,1165"/>
<path d="M1300,1195 C1290,1210 1290,1260 1300,1280 C1310,1290 1318,1260 1318,1230 C1318,1200 1310,1185 1300,1195"/>
<path d="M1240,930 C1260,900 1300,900 1320,930 C1300,960 1260,960 1240,930"/>
<path d="M1360,1330 C1365,1250 1370,1200 1375,1170"/>
<path d="M1380,1080 C1370,1000 1365,950 1370,905 C1400,895 1430,895 1462,895"/>
<path d="M1375,905 C1400,885 1430,882 1462,882"/>
<path d="M1400,950 C1395,935 1410,925 1425,935 C1430,945 1420,955 1405,952"/>
<path d="M1445,960 C1440,980 1440,1000 1445,1010"/>
<path d="M1450,1030 C1445,1050 1448,1070 1462,1075"/>
<path d="M1395,1330 C1400,1300 1420,1290 1430,1310 L1440,1330"/>
<path d="M1070,1150 C1060,1170 1060,1180 1065,1190"/>
</g>
<g font-family="'Liberation Sans', sans-serif" font-size="21" text-anchor="middle" fill="#000">
<text transform="matrix(1.8632 0 0 2.3033 383 693)" y="7">15</text>
<text transform="matrix(1.8632 0 0 2.3033 405 740)" y="7">20</text>
<text transform="matrix(1.8632 0 0 2.3033 420 790)" y="7">25</text>
<text transform="matrix(1.8632 0 0 2.3033 470 898)" y="7">30</text>
<text transform="matrix(1.8632 0 0 2.3033 488 970)" y="7">35</text>
<text transform="matrix(1.8632 0 0 2.3033 568 1018)" y="7">40</text>
<text transform="matrix(1.8632 0 0 2.3033 595 1140)" y="7">45</text>
<text transform="matrix(1.8632 0 0 2.3033 250 1055)" y="7">25</text>
<text transform="matrix(1.8632 0 0 2.3033 335 1135)" y="7">30</text>
<text transform="matrix(1.8632 0 0 2.3033 370 1275)" y="7">35</text>
<text transform="matrix(1.8632 0 0 2.3033 930 590)" y="7">15</text>
<text transform="matrix(1.8632 0 0 2.3033 862 622)" y="7">20</text>
<text transform="matrix(1.8632 0 0 2.3033 800 670)" y="7">25</text>
<text transform="matrix(1.8632 0 0 2.3033 752 762)" y="7">30</text>
<text transform="matrix(1.8632 0 0 2.3033 750 890)" y="7">35</text>
<text transform="matrix(1.8632 0 0 2.3033 770 1150)" y="7">40</text>
<text transform="matrix(1.8632 0 0 2.3033 770 1265)" y="7">45</text>
<text transform="matrix(1.8632 0 0 2.3033 1275 745)" y="7">15</text>
<text transform="matrix(1.8632 0 0 2.3033 1135 815)" y="7">20</text>
<text transform="matrix(1.8632 0 0 2.3033 1115 883)" y="7">25</text>
<text transform="matrix(1.8632 0 0 2.3033 1025 965)" y="7">30</text>
<text transform="matrix(1.8632 0 0 2.3033 1045 1125)" y="7">25</text>
<text transform="matrix(1.8632 0 0 2.3033 995 1180)" y="7">30</text>
<text transform="matrix(1.8632 0 0 2.3033 1075 1220)" y="7">30</text>
<text transform="matrix(1.8632 0 0 2.3033 975 1250)" y="7">35</text>
<text transform="matrix(1.8632 0 0 2.3033 1375 1130)" y="7">25</text>
<text transform="matrix(1.8632 0 0 2.3033 1410 1010)" y="7">30</text>
</g>
</g>
</g>

<!-- ===================== FIG 3b ===================== -->
<g transform="translate(0,-4)">
<g stroke="#000" fill="none">
<rect x="1122" y="1818" width="681" height="521" stroke-width="3"/>
<line x1="1120.75" y1="1823.5" x2="1805" y2="1823.5" stroke-width="11" stroke-dasharray="2.5 24.74"/>
<line x1="1120.75" y1="1828" x2="1805" y2="1828" stroke-width="20" stroke-dasharray="2.5 133.7"/>
<line x1="1120.75" y1="2333.5" x2="1805" y2="2333.5" stroke-width="11" stroke-dasharray="2.5 24.74"/>
<line x1="1127.5" y1="1816.75" x2="1127.5" y2="2341" stroke-width="11" stroke-dasharray="2.5 23.55"/>
<line x1="1797.5" y1="1816.75" x2="1797.5" y2="2341" stroke-width="11" stroke-dasharray="2.5 23.55"/>
</g>
<g font-family="'Liberation Sans', sans-serif" fill="#000">
<g font-size="20" text-anchor="end">
<text x="1114" y="1825">10.0</text><text x="1114" y="1877.1">9.0</text><text x="1114" y="1929.2">8.0</text><text x="1114" y="1981.3">7.0</text><text x="1114" y="2033.4">6.0</text><text x="1114" y="2085.5">5.0</text><text x="1114" y="2137.6">4.0</text><text x="1114" y="2189.7">3.0</text><text x="1114" y="2241.8">2.0</text><text x="1114" y="2293.9">1.0</text><text x="1114" y="2346">.0</text>
</g>
<g font-size="20" text-anchor="middle">
<text x="1122" y="2367">1216</text><text x="1258.2" y="2367">1231</text><text x="1394.4" y="2367">1246</text><text x="1530.6" y="2367">1301</text><text x="1666.8" y="2367">1316</text><text x="1803" y="2367">1331</text>
</g>
<text x="1117" y="2391" font-size="21" textLength="145" lengthAdjust="spacing">3 AUG 1984</text>
<text x="1368" y="1797" font-size="24" textLength="139" lengthAdjust="spacing">MAXIMUM</text><text x="1526" y="1797" font-size="24">W</text>
<text x="1457" y="2427" font-size="24" text-anchor="middle" textLength="62" lengthAdjust="spacing">TIME</text>
<text x="1122" y="2435" font-size="38" font-weight="bold" text-anchor="middle">b</text>
<text transform="translate(1067,2094) rotate(-90)" font-size="28" text-anchor="middle" textLength="175" lengthAdjust="spacing">HEIGHT (KM)</text>
</g>
<g transform="matrix(0.53538 0 0 0.42016 1020.28 1765.48)">
<g fill="none" stroke="#000" stroke-width="6.5" stroke-linecap="round" stroke-linejoin="round">
<path d="M235,930 C250,940 270,950 310,955 C330,920 340,890 360,880"/>
<path d="M410,855 C450,830 480,800 510,750 C550,700 600,660 650,620 C700,560 740,470 780,430 C800,425 820,440 830,460 C840,490 845,520 850,535 C870,545 900,535 940,545 C970,580 990,650 1000,720 C1010,790 1030,840 1060,865 C1080,870 1095,870 1100,870"/>
<path d="M1160,865 C1180,840 1200,810 1215,820 C1240,840 1260,870 1280,890 C1300,910 1320,960 1330,1000 C1345,1020 1360,1030 1370,1020 C1380,1000 1390,990 1405,1000 C1420,1010 1425,1040 1430,1060 C1440,1070 1450,1075 1462,1075"/>
<path d="M190,930 C210,950 230,980 225,990 C215,1010 200,1040 190,1050"/>
<path d="M415,1010 C415,960 420,900 430,885 C440,880 455,880 460,890 C470,900 480,905 490,900 C520,860 550,790 580,720 C610,690 630,680 650,670 C700,600 740,520 770,460 C790,445 810,450 820,470 C830,510 835,560 840,580"/>
<path d="M885,625 C910,640 920,680 915,740 C910,820 910,900 910,980 C910,1010 910,1030 908,1035"/>
<path d="M908,1120 L908,1175 C900,1200 895,1215 890,1215 C870,1190 850,1160 830,1140 C810,1140 800,1150 800,1170 C800,1230 810,1280 835,1365"/>
<path d="M415,1080 C420,1200 425,1300 422,1365"/>
<path d="M440,1020 C445,970 450,950 455,945 C470,950 480,960 490,960 C510,900 530,850 560,790 C580,760 600,730 620,710 C650,690 680,660 710,620 C730,590 740,570 745,565"/>
<path d="M770,530 C780,520 790,515 795,525 C800,560 810,600 830,630 C850,660 870,680 880,700 C885,760 880,830 870,900 C860,960 855,990 850,1000"/>
<path d="M815,1065 C800,1080 790,1085 780,1080 C765,1070 760,1060 750,1055 C730,1060 700,1090 680,1140 C670,1200 672,1300 670,1365"/>
<path d="M450,1105 C455,1200 458,1300 458,1365"/>
<path d="M478,1090 C490,1000 520,900 560,820 C590,770 620,740 650,720 C670,700 690,660 700,640 C710,640 715,650 715,665"/>
<path d="M735,720 C730,760 720,790 710,810 C715,830 740,830 760,810 C790,760 810,745 840,740 C855,750 860,790 850,820 C840,870 820,930 805,950"/>
<path d="M770,985 C750,990 730,1000 710,1040 C690,1070 670,1130 660,1200 C650,1240 630,1250 620,1240 C600,1220 580,1180 560,1140 C545,1120 535,1115 530,1120 C520,1150 510,1210 495,1290 C490,1310 480,1300 475,1280 C475,1240 478,1200 478,1165"/>
<path d="M598,860 C572,880 555,930 550,980 C555,1020 580,1060 600,1100 C620,1070 630,1020 640,980 C655,950 660,920 655,905"/>
<path d="M295,1235 C310,1210 330,1190 345,1185 C370,1190 390,1220 395,1260 L395,1285"/>
<path d="M525,1365 C530,1320 540,1270 545,1240 L555,1235"/>
<path d="M595,1295 C605,1310 610,1340 612,1365"/>
<path d="M890,1365 C895,1340 905,1335 910,1345 L912,1365"/>
<path d="M950,1365 C955,1330 965,1320 975,1330 C985,1340 990,1355 992,1365"/>
<path d="M1120,1365 C1140,1330 1160,1290 1160,1270 C1150,1230 1120,1200 1115,1170 C1115,1150 1130,1140 1140,1135"/>
<path d="M1190,1125 C1230,1120 1260,1120 1290,1130 C1330,1160 1360,1200 1380,1230 C1400,1250 1420,1260 1440,1260 L1462,1255"/>
</g>
<g font-family="'Liberation Sans', sans-serif" font-size="21" text-anchor="middle" fill="#000">
<text transform="matrix(1.8678 0 0 2.3800 380 870)" y="7">2</text>
<text transform="matrix(1.8678 0 0 2.3800 1130 870)" y="7">2</text>
<text transform="matrix(1.8678 0 0 2.3800 750 548)" y="7">6</text>
<text transform="matrix(1.8678 0 0 2.3800 858 608)" y="7">4</text>
<text transform="matrix(1.8678 0 0 2.3800 722 690)" y="7">8</text>
<text transform="matrix(1.8678 0 0 2.3800 630 875)" y="7">10</text>
<text transform="matrix(1.8678 0 0 2.3800 793 970)" y="7">8</text>
<text transform="matrix(1.8678 0 0 2.3800 842 1035)" y="7">6</text>
<text transform="matrix(1.8678 0 0 2.3800 905 1085)" y="7">4</text>
<text transform="matrix(1.8678 0 0 2.3800 415 1045)" y="7">4</text>
<text transform="matrix(1.8678 0 0 2.3800 448 1080)" y="7">6</text>
<text transform="matrix(1.8678 0 0 2.3800 478 1140)" y="7">8</text>
<text transform="matrix(1.8678 0 0 2.3800 385 1320)" y="7">2</text>
<text transform="matrix(1.8678 0 0 2.3800 575 1270)" y="7">6</text>
<text transform="matrix(1.8678 0 0 2.3800 1160 1135)" y="7">2</text>
</g>
</g>
</g>

</svg>
</body></html>
